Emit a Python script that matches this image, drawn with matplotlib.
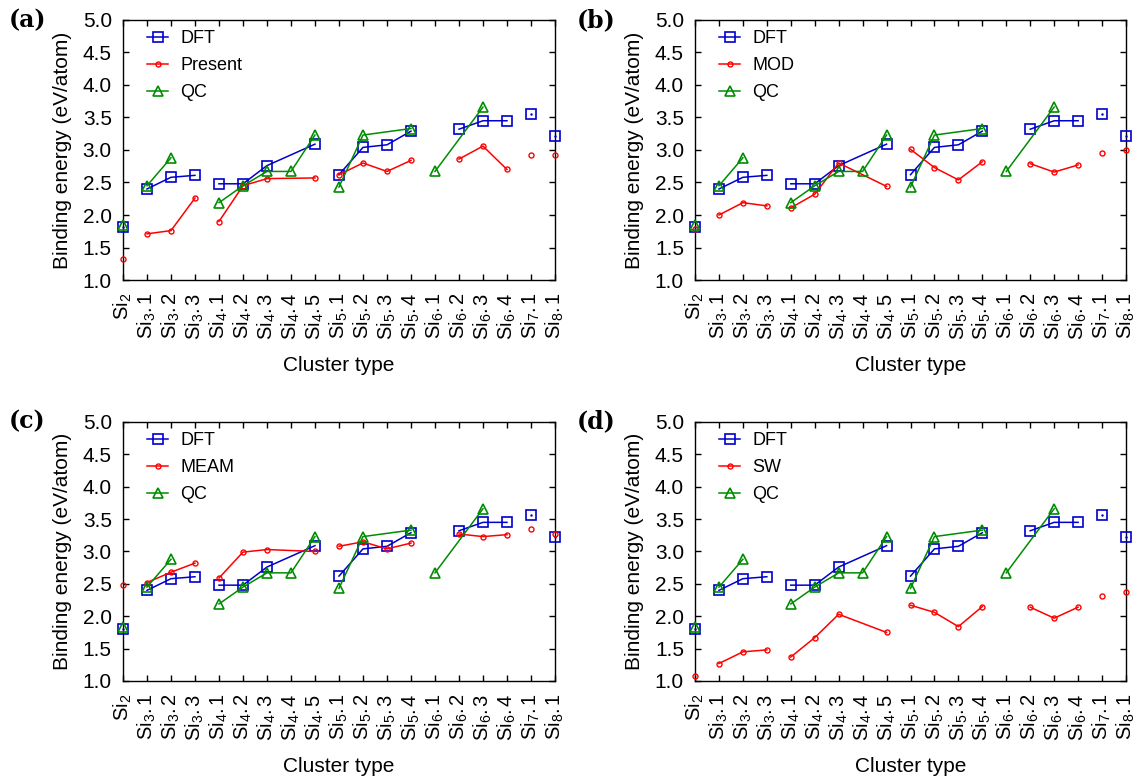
import numpy as np
import matplotlib.pyplot as plt

plt.rcParams["font.family"] = ["Liberation Sans", "DejaVu Sans"]
plt.rcParams["mathtext.fontset"] = "custom"
plt.rcParams["mathtext.rm"] = "Liberation Sans"
plt.rcParams["mathtext.it"] = "Liberation Sans"

# cluster labels, grouped by cluster size (lines only join points of one size)
groups = [["Si$_2$"],
          ["Si$_3$.$\\,$1", "Si$_3$.$\\,$2", "Si$_3$.$\\,$3"],
          ["Si$_4$.$\\,$1", "Si$_4$.$\\,$2", "Si$_4$.$\\,$3", "Si$_4$.$\\,$4", "Si$_4$.$\\,$5"],
          ["Si$_5$.$\\,$1", "Si$_5$.$\\,$2", "Si$_5$.$\\,$3", "Si$_5$.$\\,$4"],
          ["Si$_6$.$\\,$1", "Si$_6$.$\\,$2", "Si$_6$.$\\,$3", "Si$_6$.$\\,$4"],
          ["Si$_7$.$\\,$1"],
          ["Si$_8$.$\\,$1"]]
labels = [s for g in groups for s in g]
group_id = np.array([i for i, g in enumerate(groups) for _ in g])

nan = np.nan
dft = [1.81, 2.40, 2.58, 2.61, 2.48, 2.48, 2.76, nan, 3.09,
       2.62, 3.04, 3.08, 3.29, nan, 3.32, 3.45, 3.45, 3.56, 3.22]
qc = [1.84, 2.45, 2.88, nan, 2.19, 2.45, 2.67, 2.67, 3.23,
      2.43, 3.23, nan, 3.33, 2.67, nan, 3.66, nan, nan, nan]
present = [1.32, 1.71, 1.76, 2.26, 1.90, 2.45, 2.56, nan, 2.57,
           2.62, 2.80, 2.67, 2.84, nan, 2.86, 3.06, 2.70, 2.93, 2.92]
mod = [1.78, 2.00, 2.19, 2.14, 2.11, 2.32, 2.80, nan, 2.44,
       3.01, 2.73, 2.54, 2.82, nan, 2.79, 2.66, 2.77, 2.95, 3.00]
meam = [2.48, 2.52, 2.68, 2.82, 2.59, 2.99, 3.03, nan, 3.00,
        3.08, 3.15, 3.04, 3.13, nan, 3.27, 3.23, 3.26, 3.35, 3.27]
sw = [1.08, 1.27, 1.45, 1.48, 1.37, 1.67, 2.03, nan, 1.75,
      2.17, 2.06, 1.84, 2.15, nan, 2.14, 1.97, 2.14, 2.32, 2.38]

panels = [("(a)", "Present", present), ("(b)", "MOD", mod),
          ("(c)", "MEAM", meam), ("(d)", "SW", sw)]

BLUE, RED, GREEN = "#0000cc", "#ff0000", "#008c00"
styles = {
    "dft": dict(color=BLUE, marker="s", ms=7.8, mfc="none", mew=1.2, lw=1.1),
    "model": dict(color=RED, marker="o", ms=3.6, mfc="none", mew=1.0, lw=1.1),
    "qc": dict(color=GREEN, marker="^", ms=7.8, mfc="none", mew=1.2, lw=1.1),
}


def plot_grouped(ax, y, label, style):
    x = np.arange(len(y))
    y = np.asarray(y, dtype=float)
    first = True
    for g in np.unique(group_id):
        m = (group_id == g) & ~np.isnan(y)
        if not m.any():
            continue
        ax.plot(x[m], y[m], label=label if first else None, clip_on=False,
                zorder=3, **style)
        if m.sum() == 1 and style["marker"] == "s":
            # gnuplot leaves a dot in the middle of isolated points
            ax.plot(x[m], y[m], ".", color=style["color"], ms=1.5,
                    clip_on=False, zorder=3)
        first = False


fig = plt.figure(figsize=(11.45, 7.78), dpi=100)
# axes boxes in figure fraction (left, bottom, width, height)
positions = [(0.1074, 0.6401, 0.3773, 0.3342), (0.6070, 0.6401, 0.3764, 0.3342),
             (0.1074, 0.1247, 0.3773, 0.3329), (0.6070, 0.1247, 0.3764, 0.3329)]
tag_xy = [(0.008, 0.974), (0.504, 0.974), (0.008, 0.459), (0.504, 0.459)]
yticks = np.arange(1.0, 5.01, 0.5)

for pos, txy, (tag, name, vals) in zip(positions, tag_xy, panels):
    ax = fig.add_axes(pos)
    plot_grouped(ax, dft, "DFT", styles["dft"])
    plot_grouped(ax, vals, name, styles["model"])
    plot_grouped(ax, qc, "QC", styles["qc"])

    ax.set_xlim(0, len(labels) - 1)
    ax.set_ylim(1.0, 5.0)
    ax.set_xticks(np.arange(len(labels)))
    ax.set_xticklabels(labels, rotation=90, fontsize=14.5)
    ax.set_yticks(yticks)
    ax.set_yticklabels([f"{v:.1f}" for v in yticks], fontsize=15)
    ax.tick_params(direction="in", top=True, right=True, length=4, width=1)
    ax.tick_params(axis="x", pad=9)
    ax.tick_params(axis="y", pad=8)
    for sp in ax.spines.values():
        sp.set_linewidth(1.0)
    ax.set_xlabel("Cluster type", fontsize=15)
    ax.xaxis.set_label_coords(0.5, -0.293)
    ax.set_ylabel("Binding energy (eV/atom)", fontsize=15)
    ax.yaxis.set_label_coords(-0.118, 0.5)
    ax.legend(loc="upper left", frameon=False, fontsize=13, handlelength=1.2,
              handletextpad=0.65, labelspacing=0.55, borderaxespad=0,
              borderpad=0, bbox_to_anchor=(0.055, 0.96))
    fig.text(txy[0], txy[1], tag, fontsize=17, fontweight="bold",
             family="DejaVu Serif", ha="left", va="center")

fig.savefig("out.png", dpi=100)
